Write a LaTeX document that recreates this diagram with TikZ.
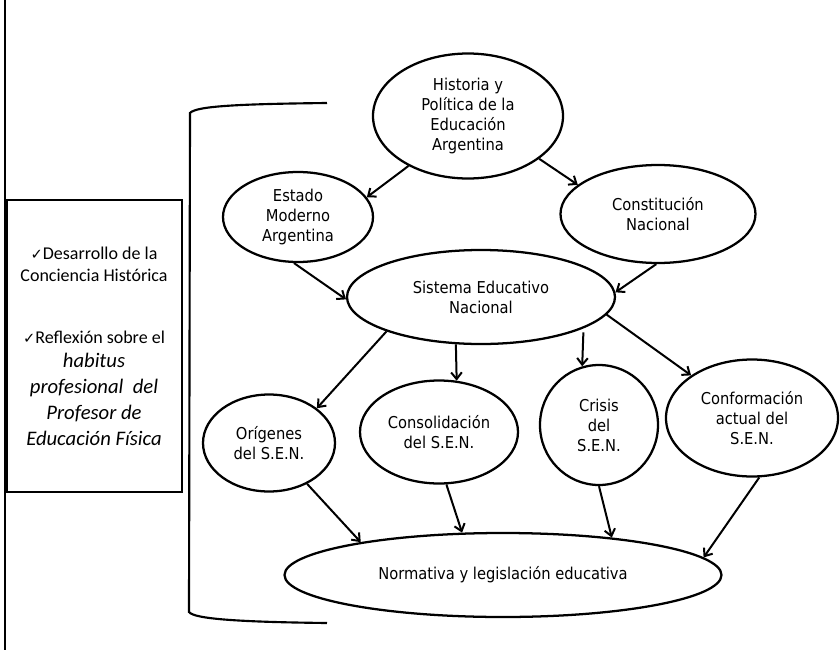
\documentclass[tikz,border=0pt]{standalone}
\usepackage{fontspec}
\setmainfont{DejaVu Sans Condensed}
\newfontfamily\boxfont{Carlito}
\newfontfamily\symfont{DejaVu Sans}
\usetikzlibrary{shapes.geometric,arrows.meta}
\newcommand\mychk{{\symfont\fontsize{11}{11}\selectfont ✓}}
\newcommand\boxreg{\boxfont\fontsize{13.5}{16.5}\selectfont}
\newcommand\boxital{\boxfont\itshape\fontsize{15.5}{19.5}\selectfont}
\begin{document}
\begin{tikzpicture}[x=0.75pt,y=-0.75pt,
  ell/.style={ellipse,draw,line width=1.7pt,inner sep=0pt,align=center,
    font=\fontsize{12.25}{15}\selectfont},
  arr/.style={line width=1.5pt,-{Straight Barb[length=5pt,width=8pt]}},
  txt/.style={inner sep=0pt,align=center}]
\fill[white] (0,0) rectangle (840,664);
\useasboundingbox (0,0) rectangle (840,664);

% left frame line and box
\draw[line width=1pt] (5,0) -- (5,650);
\node[draw,line width=1.8pt,minimum width=131.25pt,minimum height=219pt,inner sep=0pt] (box) at (94.5,346) {};
\node[txt,font=\boxreg] (t1) at (94,264) {\mychk Desarrollo de la\\Conciencia Histórica};
\node[txt,font=\boxreg] (t2) at (94,337) {\mychk Reflexión sobre el};
\node[txt,font=\boxital] (t3) at (94,399) {habitus\\profesional\ \ del\\Profesor de\\Educación Física};

% bracket
\draw[line width=1.6pt] (327,103) .. controls (240,104) and (196,106) .. (190,113)
  -- (189,612) .. controls (194,619) and (240,622) .. (327,623);

% ellipses
\node[ell,minimum width=142.5pt,minimum height=93.75pt] (hist) at (468,116) {Historia y\\Política de la\\Educación\\Argentina};
\node[ell,minimum width=112.5pt,minimum height=67.5pt] (est) at (298,217) {Estado\\Moderno\\Argentina};
\node[ell,minimum width=146.25pt,minimum height=73.5pt] (con) at (658,214) {Constitución\\Nacional};
\node[ell,minimum width=201pt,minimum height=70.5pt] (sis) at (481,297) {Sistema Educativo\\Nacional};
\node[ell,minimum width=99pt,minimum height=72.75pt] (ori) at (269,443) {Orígenes\\del S.E.N.};
\node[ell,minimum width=118.5pt,minimum height=77.25pt] (cons) at (439,432) {Consolidación\\del S.E.N.};
\node[ell,minimum width=88.5pt,minimum height=90pt] (cri) at (599,425) {Crisis\\del\\S.E.N.};
\node[ell,minimum width=129pt,minimum height=87.75pt] (conf) at (752,418) {Conformación\\actual del\\S.E.N.};
\node[ell,minimum width=327.75pt,minimum height=63pt] (norm) at (503,575) {Normativa y legislación educativa};

% connectors
\draw[arr] (hist.220) -- (est.16);
\draw[arr] (hist.329) -- (con.160);
\draw[arr] (est.265) -- (sis.181);
\draw[arr] (con.268) -- (sis.2);
\draw[arr] (sis.200) -- (ori.36);
\draw[arr] (sis.242) -- (cons.71);
\draw[arr,shorten <=3pt] (sis.343) -- (cri.106);
\draw[arr] (sis.352) -- (conf.145);
\draw[arr] (ori.313) -- (norm.167);
\draw[arr] (cons.278) -- (norm.134);
\draw[arr] (cri.270) -- (norm.19);
\draw[arr] (conf.277) -- (norm.5);
\end{tikzpicture}
\end{document}
